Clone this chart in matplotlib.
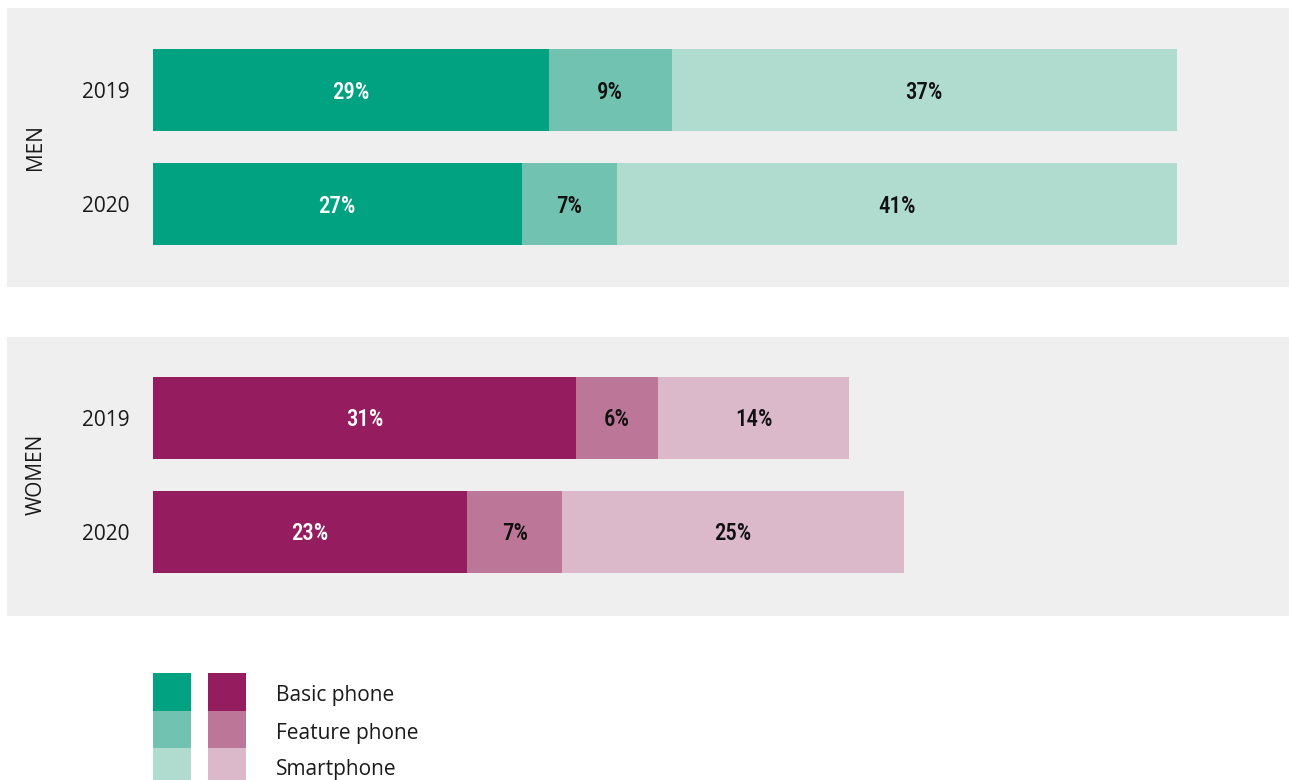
import matplotlib
matplotlib.use("Agg")
import matplotlib.pyplot as plt
from matplotlib.patches import Rectangle
from matplotlib import font_manager

# Share of respondents by phone type (%)
years = ["2019", "2020"]
phone_types = ["Basic phone", "Feature phone", "Smartphone"]
men_basic = [29, 27]
men_feature = [9, 7]
men_smart = [37, 41]
women_basic = [31, 23]
women_feature = [6, 7]
women_smart = [14, 25]

men_colors = ["#00A281", "#71C2B0", "#B0DBCF"]
women_colors = ["#951D5F", "#BC7697", "#DBB9CB"]
label_colors = ["white", "#111111", "#111111"]
panel_bg = "#EFEFEF"

W, H = 1289, 780
fig = plt.figure(figsize=(W / 100, H / 100), dpi=100)
fig.patch.set_facecolor("white")

names = {f.name for f in font_manager.fontManager.ttflist}
narrow_family = "DejaVu Sans"
for cand in ["Roboto Condensed", "Liberation Sans Narrow", "Open Sans Condensed"]:
    if cand in names:
        narrow_family = cand
        break
narrow_props = dict(fontfamily=narrow_family, fontstretch="condensed")
body_font = "Open Sans" if "Open Sans" in names else "DejaVu Sans"

px_per_unit = 13.65
bar_x0 = 153
row_gap = 114
bar_h = 82 / row_gap


def panel(top, bottom, first_center, series, colors, title):
    left_px, right_px = 7, W
    ax = fig.add_axes([left_px / W, 1 - bottom / H,
                       (right_px - left_px) / W, (bottom - top) / H])
    ax.set_facecolor(panel_bg)
    ax.set_xlim(-(bar_x0 - left_px) / px_per_unit, (right_px - bar_x0) / px_per_unit)
    y_top = -(first_center - top) / row_gap
    y_bot = y_top + (bottom - top) / row_gap
    ax.set_ylim(y_bot, y_top)
    for s in ax.spines.values():
        s.set_visible(False)
    ax.set_xticks([])
    ax.set_yticks([])

    ypos = list(range(len(years)))
    left = [0] * len(years)
    for vals, col, tcol in zip(series, colors, label_colors):
        ax.barh(ypos, vals, left=left, height=bar_h, color=col, linewidth=0)
        for y, v, l in zip(ypos, vals, left):
            ax.text(l + v / 2, y + 0.02, f"{v}%", ha="center", va="center",
                    color=tcol, fontsize=16.5, fontweight="medium", **narrow_props)
        left = [a + b for a, b in zip(left, vals)]

    for y, yr in zip(ypos, years):
        ax.text(-(bar_x0 - 82) / px_per_unit, y + 0.025, yr, ha="left", va="center",
                fontsize=15, fontfamily=body_font, color="#1a1a1a")
    ax.text(-(bar_x0 - 36) / px_per_unit, 0.5, title, rotation=90,
            ha="center", va="center", fontsize=15, fontfamily=body_font,
            color="#1a1a1a")


panel(8, 287, 90, [men_basic, men_feature, men_smart], men_colors, "MEN")
panel(337, 616, 417.5, [women_basic, women_feature, women_smart], women_colors, "WOMEN")

# Legend: two swatch columns plus the phone type names
leg = fig.add_axes([0, 0, 1, 1])
leg.set_xlim(0, W)
leg.set_ylim(H, 0)
leg.axis("off")
leg.patch.set_alpha(0)
row_tops = [673, 711, 748]
row_h = 38
for i, name in enumerate(phone_types):
    leg.add_patch(Rectangle((153, row_tops[i]), 38, row_h, color=men_colors[i], lw=0))
    leg.add_patch(Rectangle((208, row_tops[i]), 38, row_h, color=women_colors[i], lw=0))
    leg.text(276, row_tops[i] + 22, name, ha="left", va="center",
             fontsize=15, fontfamily=body_font, color="#1a1a1a")

fig.savefig("out.png", dpi=100, facecolor="white")
